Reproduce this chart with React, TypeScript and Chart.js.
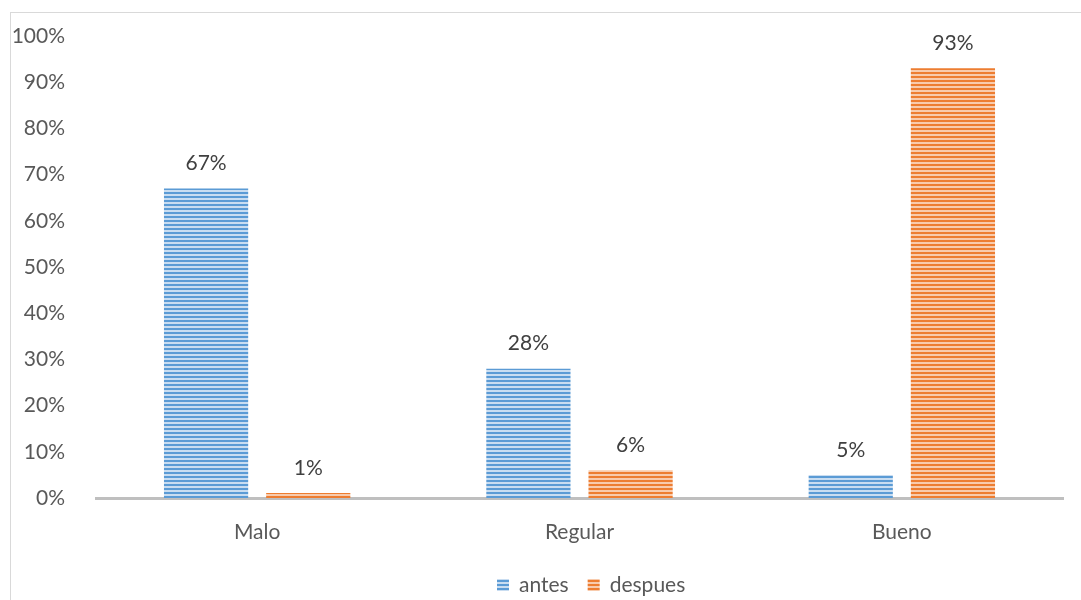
import React, { useEffect, useRef } from "react";
import { Chart, registerables } from "chart.js";

Chart.register(...registerables);

const categories = ["Malo", "Regular", "Bueno"];
const seriesNames = ["antes", "despues"];
const antesValues = [67, 28, 5];
const despuesValues = [1.1, 6, 93];
const antesLabels = ["67%", "28%", "5%"];
const despuesLabels = ["1%", "6%", "93%"];
const yTicks = [0, 10, 20, 30, 40, 50, 60, 70, 80, 90, 100];

const FONT = "Lato, 'Open Sans', sans-serif";
const FS = 21;
const TEXT = "#595959";

function stripe(dark: string, light: string): CanvasPattern | string {
  const c = document.createElement("canvas");
  c.width = 4;
  c.height = 4;
  const ctx = c.getContext("2d");
  if (!ctx) return dark;
  ctx.fillStyle = light;
  ctx.fillRect(0, 0, 4, 4);
  ctx.fillStyle = dark;
  ctx.fillRect(0, 0, 4, 2);
  return ctx.createPattern(c, "repeat") as CanvasPattern;
}

export default function App() {
  const ref = useRef<HTMLCanvasElement | null>(null);
  useEffect(() => {
    if (!ref.current) return;
    const bluePat = stripe("#5B9BD5", "#C9DDF1");
    const orangePat = stripe("#ED7D31", "#F8CBAD");
    const labelSets = [antesLabels, despuesLabels];
    const chart = new Chart(ref.current, {
      type: "bar",
      data: {
        labels: categories,
        datasets: [
          { label: seriesNames[0], data: antesValues, backgroundColor: bluePat as any, borderWidth: 0 },
          { label: seriesNames[1], data: despuesValues, backgroundColor: orangePat as any, borderWidth: 0 },
        ],
      },
      options: {
        animation: false,
        responsive: false,
        layout: { padding: { top: 36, right: 18, left: 0, bottom: 34 } },
        datasets: { bar: { categoryPercentage: 0.634, barPercentage: 0.824 } } as any,
        scales: {
          x: {
            afterFit: (s: any) => { s.height = 68; },
            grid: { display: false },
            border: { display: true, color: "#BFBFBF", width: 3 },
            ticks: { color: TEXT, font: { family: FONT, size: FS }, padding: 14 },
          },
          y: {
            min: 0,
            max: 100,
            afterFit: (s: any) => { s.width = 96; },
            afterBuildTicks: (s: any) => { s.ticks = yTicks.map((v) => ({ value: v })); },
            grid: { display: false },
            border: { display: false },
            ticks: {
              color: TEXT,
              font: { family: FONT, size: FS },
              padding: 23,
              callback: (v: any) => v + "%",
            },
          },
        },
        plugins: {
          legend: { display: false },
          tooltip: { enabled: false },
        },
      },
      plugins: [
        {
          id: "frame",
          beforeDraw: (c: any) => {
            const ctx = c.ctx;
            ctx.save();
            ctx.fillStyle = "#fff";
            ctx.fillRect(0, 0, c.width, c.height);
            ctx.strokeStyle = "#D9D9D9";
            ctx.lineWidth = 1;
            ctx.strokeRect(10.5, 12.5, 1200, 800);
            ctx.restore();
          },
        },
        {
          id: "datalabels",
          afterDatasetsDraw: (c: any) => {
            const ctx = c.ctx;
            ctx.save();
            ctx.fillStyle = "#404040";
            ctx.font = `${FS}px ${FONT}`;
            ctx.textAlign = "center";
            ctx.textBaseline = "middle";
            c.data.datasets.forEach((_: any, di: number) => {
              const meta = c.getDatasetMeta(di);
              meta.data.forEach((el: any, i: number) => {
                ctx.fillText(labelSets[di][i], el.x, el.y - 25);
              });
            });
            ctx.restore();
          },
        },
        {
          id: "customLegend",
          afterDraw: (c: any) => {
            const ctx = c.ctx;
            ctx.save();
            ctx.font = `${FS}px ${FONT}`;
            ctx.textBaseline = "middle";
            ctx.textAlign = "left";
            const y = 585;
            let x = 497;
            c.data.datasets.forEach((ds: any) => {
              ctx.fillStyle = ds.backgroundColor;
              ctx.fillRect(x, y - 6, 12, 12);
              x += 22;
              ctx.fillStyle = TEXT;
              ctx.fillText(ds.label, x, y);
              x += ctx.measureText(ds.label).width + 19;
            });
            ctx.restore();
          },
        },
      ],
    });
    return () => chart.destroy();
  }, []);
  return (
    <div style={{ position: "fixed", left: 0, top: 0, width: 1081, height: 600 }}>
      <canvas ref={ref} width={1081} height={600} style={{ display: "block" }} />
    </div>
  );
}
